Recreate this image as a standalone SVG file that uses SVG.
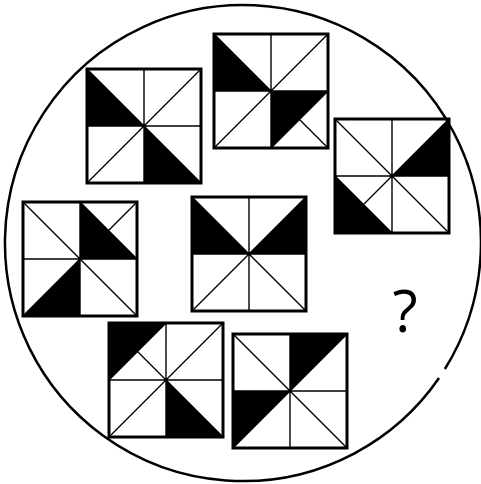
<svg xmlns="http://www.w3.org/2000/svg" width="481" height="484" viewBox="0 0 481 484">
<style>
.bg{fill:#fff}
.blk{fill:#000}
.ln{stroke:#000;stroke-width:1.4;fill:none}
.bd{stroke:#000;stroke-width:3;fill:none}
.ring{stroke:#000;stroke-width:2.5;fill:none}
.q{font-family:"Open Sans","DejaVu Sans",sans-serif;font-size:58px;fill:#000}
</style>
<rect class="bg" width="481" height="484"/>
<path id="ring" class="ring" d="M444.9,369 A238,238 0 1,0 439,378"/>

<g id="sq1" transform="translate(87,69)">
<path class="blk" d="M0,0L0,57L57,57Z M57,57L57,114L114,114Z"/>
<path class="ln" d="M57,0V114 M0,57H114 M0,0L114,114 M114,0L0,114"/>
<rect class="bd" width="114" height="114"/>
</g>

<g id="sq2" transform="translate(214,34)">
<path class="blk" d="M0,0L0,57L57,57Z M57,57L114,57L57,114Z"/>
<path class="ln" d="M57,0V114 M0,57H114 M0,0L57,57 M85.5,85.5L114,114 M114,0L0,114 M114,57L57,114"/>
<rect class="bd" width="114" height="114"/>
</g>

<g id="sq3" transform="translate(335,119)">
<path class="blk" d="M57,57L114,0L114,57Z M0,57L0,114L57,114Z"/>
<path class="ln" d="M57,0V114 M0,57H114 M0,0L114,114 M114,0L28.5,85.5 M0,57L57,114"/>
<rect class="bd" width="114" height="114"/>
</g>

<g id="sq4" transform="translate(23,202)">
<path class="blk" d="M57,0L57,57L114,57Z M57,57L0,114L57,114Z"/>
<path class="ln" d="M57,0V114 M0,57H114 M0,0L114,114 M57,0L114,57 M85.5,28.5L114,0 M57,57L0,114"/>
<rect class="bd" width="114" height="114"/>
</g>

<g id="sq5" transform="translate(192,197)">
<path class="blk" d="M0,0L0,57L57,57Z M57,57L114,0L114,57Z"/>
<path class="ln" d="M57,0V114 M0,57H114 M0,0L114,114 M114,0L0,114"/>
<rect class="bd" width="114" height="114"/>
</g>

<g id="sq6" transform="translate(109,323)">
<path class="blk" d="M0,0L57,0L0,57Z M57,57L57,114L114,114Z"/>
<path class="ln" d="M57,0V114 M0,57H114 M28.5,28.5L114,114 M57,0L0,57 M114,0L0,114"/>
<rect class="bd" width="114" height="114"/>
</g>

<g id="sq7" transform="translate(233,334)">
<path class="blk" d="M57,0L114,0L57,57Z M0,57L57,57L0,114Z"/>
<path class="ln" d="M57,0V114 M0,57H114 M0,0L114,114 M114,0L0,114"/>
<rect class="bd" width="114" height="114"/>
</g>

<text id="question" class="q" x="405" y="332" text-anchor="middle">?</text>
</svg>
